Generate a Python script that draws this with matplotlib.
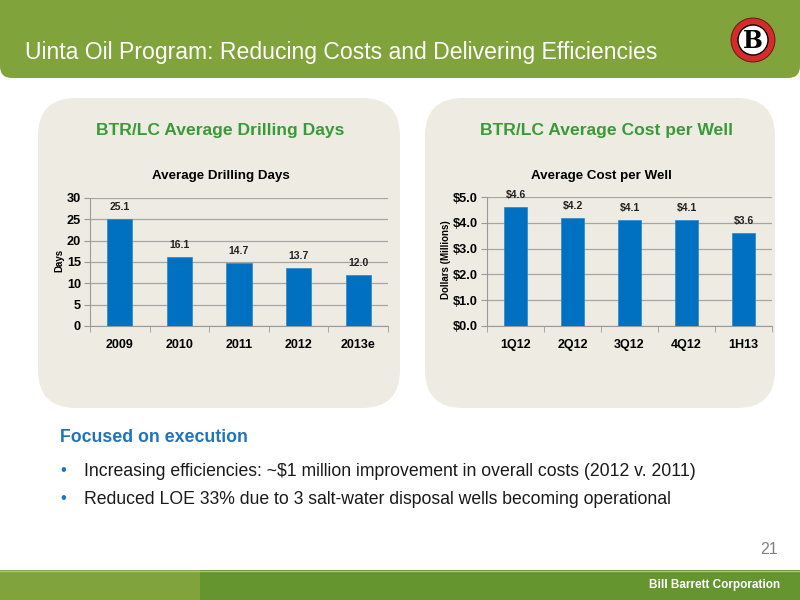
import matplotlib
matplotlib.use("Agg")
import matplotlib.pyplot as plt
from matplotlib.patches import FancyBboxPatch, Rectangle, Circle
import numpy as np

# ---- data ----
drill_years = ["2009", "2010", "2011", "2012", "2013e"]
drill_days = [25.1, 16.1, 14.7, 13.7, 12.0]
drill_yticks = [0, 5, 10, 15, 20, 25, 30]

cost_periods = ["1Q12", "2Q12", "3Q12", "4Q12", "1H13"]
cost_values = [4.6, 4.2, 4.1, 4.1, 3.6]
cost_yticks = [0.0, 1.0, 2.0, 3.0, 4.0, 5.0]

title = "Uinta Oil Program: Reducing Costs and Delivering Efficiencies"
panel_titles = ["BTR/LC Average Drilling Days", "BTR/LC Average Cost per Well"]
chart_titles = ["Average Drilling Days", "Average Cost per Well"]
bullets = [
    "Increasing efficiencies: ~$1 million improvement in overall costs (2012 v. 2011)",
    "Reduced LOE 33% due to 3 salt-water disposal wells becoming operational",
]

plt.rcParams['font.family'] = ['Liberation Sans', 'DejaVu Sans']

W, H = 800, 600
fig = plt.figure(figsize=(8, 6), dpi=100)
fig.patch.set_facecolor("white")

bg = fig.add_axes([0, 0, 1, 1])
bg.set_xlim(0, W)
bg.set_ylim(H, 0)
bg.axis("off")

HEADER = "#80A33C"
FOOT_DARK = "#64952E"
PANEL = "#EEEBE2"
GREEN_TXT = "#3A9A3A"
BLUE_TXT = "#1F74BC"
BAR = "#0070C0"

# header band with rounded bottom corners
bg.add_patch(FancyBboxPatch((0, -30), W, 108, boxstyle="round,pad=0,rounding_size=12",
                            fc=HEADER, ec="none"))
bg.text(25, 52, title, color="white", fontsize=16.6, va="center", ha="left")

# logo
bg.add_patch(Circle((753, 40), 22, fc="#D62B2B", ec="#5a1010", lw=0.6))
bg.add_patch(Circle((753, 40), 15, fc="white", ec="black", lw=1.0))
bg.text(753, 41.5, "B", fontsize=17, fontweight="heavy", family="DejaVu Serif",
        ha="center", va="center", color="black")

# panels
for x0, x1 in [(38, 400), (425, 775)]:
    bg.add_patch(FancyBboxPatch((x0, 98), x1 - x0, 310,
                                boxstyle="round,pad=0,rounding_size=38",
                                fc=PANEL, ec="none"))
bg.text(220, 130, panel_titles[0], color=GREEN_TXT, fontsize=12.6, fontweight="bold",
        ha="center", va="center")
bg.text(607, 130, panel_titles[1], color=GREEN_TXT, fontsize=12.6, fontweight="bold",
        ha="center", va="center")

# bottom text
bg.text(60, 437, "Focused on execution", color=BLUE_TXT, fontsize=12.8, fontweight="bold",
        ha="left", va="center")
for i, b in enumerate(bullets):
    y = 471 + 28 * i
    bg.text(60, y, "\u2022", color=BLUE_TXT, fontsize=12, ha="left", va="center")
    bg.text(84, y, b, color="#1a1a1a", fontsize=12.7, ha="left", va="center")

# footer
bg.add_patch(Rectangle((0, 570), 200, 30, fc=HEADER, ec="none"))
bg.add_patch(Rectangle((200, 570), 600, 30, fc=FOOT_DARK, ec="none"))
bg.plot([0, 800], [570.5, 570.5], color="#A9C77A", lw=1)
bg.text(778, 549, "21", color="#808080", fontsize=11.5, ha="right", va="center")
bg.text(780, 585, "Bill Barrett Corporation", color="white", fontsize=8.5,
        fontweight="bold", ha="right", va="center")


def make_chart(rect_px, cats, vals, yticks, ytickfmt, lblfmt, ylabel, ctitle, ylab_x, title_x):
    x0, y0, x1, y1 = rect_px
    ax = fig.add_axes([x0 / W, 1 - y1 / H, (x1 - x0) / W, (y1 - y0) / H])
    ax.set_facecolor("none")
    xs = np.arange(len(cats))
    bars = ax.bar(xs, vals, width=0.42, color=BAR, edgecolor="#2a86cc", lw=0.5, zorder=3)
    ax.set_xlim(-0.5, len(cats) - 0.5)
    ax.set_ylim(yticks[0], yticks[-1])
    ax.set_yticks(yticks)
    ax.set_yticklabels([ytickfmt.format(v) for v in yticks], fontsize=9.2, fontweight="bold")
    ax.set_xticks(xs)
    ax.set_xticklabels(cats, fontsize=9, fontweight="bold")
    for lab in ax.get_xticklabels():
        lab.set_verticalalignment("baseline")
    ax.set_xticks(np.arange(-0.5, len(cats), 1.0), minor=True)
    ax.tick_params(axis="x", which="major", length=0, pad=15.5)
    ax.tick_params(axis="x", which="minor", length=4, color="#9a9a9a", direction="out")
    ax.tick_params(axis="y", length=4, color="#9a9a9a", direction="out", pad=2.5)
    ax.grid(axis="y", color="#a6a6a6", lw=0.9, zorder=0)
    for s in ["top", "right"]:
        ax.spines[s].set_visible(False)
    for s in ["left", "bottom"]:
        ax.spines[s].set_color("#9a9a9a")
    ax.bar_label(bars, labels=[lblfmt.format(v) for v in vals], padding=5,
                 fontsize=7.5, fontweight="bold", color="#222222")
    bg.text(ylab_x, (y0 + y1) / 2 - 2, ylabel, rotation=90, fontsize=7, fontweight="bold",
            ha="center", va="center")
    bg.text(title_x, 176, ctitle, fontsize=9.6, fontweight="bold",
            ha="center", va="center")
    return ax


make_chart((90, 198, 388, 326), drill_years, drill_days, drill_yticks, "{:d}", "{:.1f}",
           "Days", chart_titles[0], 59, 221)
make_chart((487, 197, 772, 326), cost_periods, cost_values, cost_yticks, "${:.1f}", "${:.1f}",
           "Dollars (Millions)", chart_titles[1], 446, 601)

fig.savefig("out.png", dpi=100)
